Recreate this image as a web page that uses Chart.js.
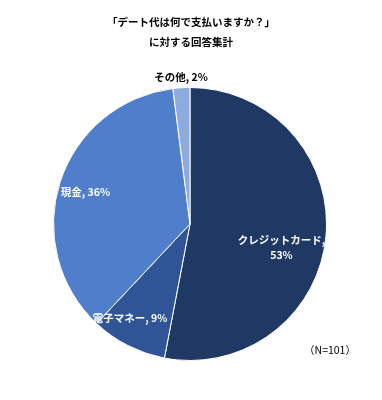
<!DOCTYPE html>
<html><head><meta charset="utf-8">
<script src="https://cdn.jsdelivr.net/npm/chart.js@4/dist/chart.umd.min.js"></script>
<style>html,body{margin:0;padding:0;background:#fff}#wrap{width:382px;height:400px;position:relative}</style>
</head><body><div id="wrap"><canvas id="c" width="382" height="400"></canvas></div>
<script>
const categories = ["クレジットカード", "電子マネー", "現金", "その他"];
const values = [53, 9, 36, 2];
const colors = ["#203864", "#2F5597", "#4F7FCB", "#8FAADC"];
const titleLines = ["「デート代は何で支払いますか？」", "に対する回答集計"];
const note = "（N=101）";

const FONT = '"Noto Sans CJK JP", "Noto Sans", sans-serif';

const labelPlugin = {
  id: 'labels',
  afterDraw(chart) {
    const ctx = chart.ctx;
    ctx.save();
    ctx.textAlign = 'center';
    ctx.textBaseline = 'middle';
    ctx.fillStyle = '#000';
    ctx.font = 'bold 10.5px ' + FONT;
    ctx.fillText(titleLines[0], 191, 22);
    ctx.fillText(titleLines[1], 191, 42);
    const meta = chart.getDatasetMeta(0);
    // label anchor offsets in units of the pie radius
    const pos = [
      {lines: [categories[0] + ",", values[0] + "%"], ox: 0.67, oy: 0.175, color: '#fff'},
      {lines: [categories[1] + ", " + values[1] + "%"], ox: -0.44, oy: 0.686, color: '#fff'},
      {lines: [categories[2] + ", " + values[2] + "%"], ox: -0.766, oy: -0.234, color: '#fff'},
      {lines: [categories[3] + ", " + values[3] + "%"], ox: -0.066, oy: -1.08, color: '#000'}
    ];
    ctx.font = 'bold 10.5px ' + FONT;
    meta.data.forEach((arc, i) => {
      const p = arc.getProps(['x','y','outerRadius'], true);
      const cx = p.x + pos[i].ox * p.outerRadius;
      const cy = p.y + pos[i].oy * p.outerRadius;
      ctx.fillStyle = pos[i].color;
      const lines = pos[i].lines;
      const lh = 15;
      lines.forEach((t, k) => {
        ctx.fillText(t, cx, cy + (k - (lines.length - 1) / 2) * lh);
      });
    });
    ctx.fillStyle = '#000';
    ctx.font = '10.5px ' + FONT;
    ctx.fillText(note, 330, 350);
    ctx.restore();
  }
};

new Chart(document.getElementById('c'), {
  type: 'pie',
  data: {
    labels: categories,
    datasets: [{ data: values, backgroundColor: colors, borderColor: '#fff', borderWidth: 1 }]
  },
  options: {
    responsive: false,
    animation: false,
    layout: { padding: { top: 87, bottom: 39, left: 53, right: 55 } },
    plugins: { legend: { display: false }, tooltip: { enabled: false }, title: { display: false } }
  },
  plugins: [labelPlugin]
});
</script></body></html>
